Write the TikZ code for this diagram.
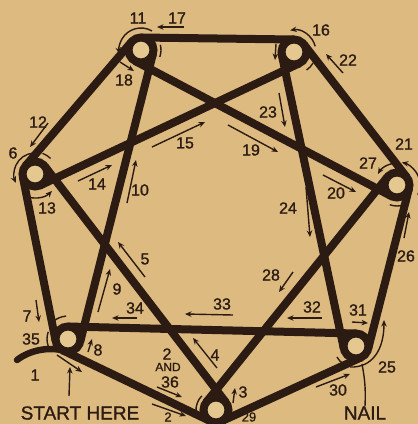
\documentclass[tikz,border=0pt]{standalone}
\usepackage{fontspec}
\setmainfont{Liberation Sans}
\newfontfamily\lblfont[UprightFeatures={FakeBold=1.2}]{Liberation Sans}
\usetikzlibrary{calc,arrows.meta}
\definecolor{bg}{RGB}{221,187,128}
\definecolor{ink}{RGB}{43,27,18}
\definecolor{nailc}{RGB}{228,200,144}
\newcommand\strg[2]{\draw[str] ($(#1)!12.5pt!-90:(#2)$) -- ($(#2)!12.5pt!90:(#1)$);}
\begin{document}
\begin{tikzpicture}[x=1pt,y=-1pt,
  str/.style={draw=ink,line width=8pt},
  thinl/.style={draw=ink,line width=1.4pt},
  arr/.style={thinl,-{Stealth[length=6.5pt,width=5.5pt]}},
  lbl/.style={text=ink,font=\lblfont\fontsize{16}{16}\selectfont,inner sep=0pt},
  lbls/.style={text=ink,font=\lblfont\fontsize{13}{13}\selectfont,inner sep=0pt},
  small/.style={text=ink,font=\lblfont\fontsize{12}{12}\selectfont,inner sep=0pt},
  big/.style={text=ink,font=\lblfont\fontsize{19}{19}\selectfont,inner sep=0pt},
  nail/.style={circle,draw=ink,line width=8pt,fill=nailc,minimum size=25pt,inner sep=0pt}]
\useasboundingbox (0,0) rectangle (418,424);
\fill[bg] (0,0) rectangle (418,424);
% nail centres
\coordinate (c11) at (141,50);
\coordinate (c16) at (294,52);
\coordinate (c6) at (35,174);
\coordinate (c21) at (397,185);
\coordinate (c8) at (68,339);
\coordinate (c25) at (356,346);
\coordinate (c3) at (216,410);
% strings
\strg{c8}{c3}
\strg{c3}{c6}
\strg{c6}{c8}
\strg{c8}{c11}
\strg{c11}{c6}
\strg{c6}{c16}
\strg{c16}{c11}
\strg{c11}{c21}
\strg{c21}{c16}
\strg{c16}{c25}
\strg{c25}{c21}
\strg{c21}{c3}
\strg{c3}{c25}
\strg{c25}{c8}
% start end of the string
\coordinate (s1) at (17,360);
\draw[draw=ink,line width=6.5pt,line cap=round] (s1) .. controls (30,350) and (48,347) .. ($(c8)!12.5pt!-90:(c3)$);
% nails
\node[nail] (n11) at (c11) {};
\node[nail] (n16) at (c16) {};
\node[nail] (n6) at (c6) {};
\node[nail] (n21) at (c21) {};
\node[nail] (n8) at (c8) {};
\node[nail] (n25) at (c25) {};
\node[nail] (n3) at (c3) {};
% wrap arcs
\draw[arr] ($(c11)+(60:22pt)$) arc[start angle=60,end angle=190,radius=22pt];
\draw[thinl] ($(c11)+(-20:20pt)$) arc[start angle=-20,end angle=15,radius=20pt];
\draw[arr] ($(c16)+(15:22pt)$) arc[start angle=15,end angle=100,radius=22pt];
\draw[thinl] ($(c16)+(-55:22pt)$) arc[start angle=-55,end angle=-30,radius=22pt];
\draw[arr] ($(c21)+(-25:23pt)$) arc[start angle=-25,end angle=78,radius=23pt];
\draw[arr] ($(c21)+(100:22pt)$) arc[start angle=100,end angle=150,radius=22pt];
\draw[thinl] ($(c21)+(-110:21pt)$) arc[start angle=-110,end angle=-70,radius=21pt];
\draw[arr] ($(c6)+(95:21pt)$) arc[start angle=95,end angle=205,radius=21pt];
\draw[thinl] ($(c6)+(45:22pt)$) arc[start angle=45,end angle=70,radius=22pt];
\draw[arr] ($(c6)+(-105:24pt)$) arc[start angle=-105,end angle=-45,radius=24pt];
\draw[thinl] ($(c8)+(160:21pt)$) arc[start angle=160,end angle=200,radius=21pt];
\draw[thinl] ($(c8)+(95:23pt)$) arc[start angle=95,end angle=130,radius=23pt];
\draw[thinl] ($(c3)+(135:20pt)$) arc[start angle=135,end angle=185,radius=20pt];
\draw[thinl] ($(c25)+(-150:22pt)$) arc[start angle=-150,end angle=-125,radius=22pt];
\draw[arr] (350,367) .. controls (372,368) and (384,350) .. (384,320);
% labels
\node[lbl] (t11) at (138,18) {11};
\node[lbl] (t17) at (177,18) {17};
\draw[arr] (184,27) -- (157,27);
\node[lbl] (t18) at (124,80) {18};
\draw[arr] (120,62) -- (134,71);
\node[lbl] (t16) at (321,30) {16};
\node[lbl] (t22) at (348,60) {22};
\draw[arr] (343,73) -- (326,54);
\draw[arr] (276,44) -- (275,60);
\node[lbl] (t23) at (268,112) {23};
\draw[arr] (279,93) -- (285,127);
\node[lbl] (t19) at (251,150) {19};
\draw[arr] (228,125) -- (278,152);
\node[lbl] (t20) at (336,193) {20};
\draw[arr] (323,175) -- (356,192);
\node[lbl] (t24) at (288,208) {24};
\draw[arr] (306,187) -- (310,237);
\node[lbl] (t21) at (404,144) {21};
\node[lbl] (t27) at (368,163) {27};
\node[lbl] (t26) at (406,256) {26};
\draw[arr] (404,238) -- (409,212);
\node[lbl] (t28) at (271,275) {28};
\draw[arr] (293,272) -- (279,292);
\node[lbl] (t25) at (387,367) {25};
\node[big] (tnail) at (365,413) {NAIL};
\draw[thinl] (tnail.north) .. controls (366,385) and (364,375) .. (362,364);
\node[lbl] (t30) at (338,390) {30};
\draw[arr] (316,387) -- (350,374);
\node[lbl] (t31) at (358,310) {31};
\draw[arr] (352,322) -- (368,323);
\node[lbl] (t32) at (312,307) {32};
\draw[arr] (322,318) -- (287,318);
\node[lbl] (t33) at (222,304) {33};
\draw[arr] (233,315) -- (185,314);
\node[lbl] (t34) at (135,308) {34};
\draw[arr] (137,318) -- (112,318);
\node[lbl] (t7) at (27,316) {7};
\draw[arr] (36,300) -- (39,322);
\node[lbl] (t35) at (31,339) {35};
\node[lbl] (t1) at (35,375) {1};
\node[big] (tstart) at (80,413) {START HERE};
\draw[arr] (69,396) -- (70,367);
\node[lbl] (t8) at (98,350) {8};
\draw[arr] (88,352) -- (92,339);
\draw[arr] (57,355) -- (82,372);
\node[lbl] (t2) at (167,354) {2};
\node[small] (tand) at (168,367) {AND};
\node[lbl] (t36) at (170,382) {36};
\draw[arr] (157,387) -- (182,397);
\node[lbl] (t9) at (117,289) {9};
\draw[arr] (98,312) -- (110,269);
\node[lbl] (t5) at (145,259) {5};
\draw[arr] (145,277) -- (118,242);
\node[lbl] (t4) at (215,355) {4};
\draw[arr] (217,368) -- (193,338);
\node[lbl] (t3) at (243,392) {3};
\draw[arr] (233,403) -- (235,388);
\node[lbls] (t2b) at (168,417) {2};
\draw[arr] (152,404) -- (186,416);
\node[lbls] (t29) at (249,417) {29};
\node[lbl] (t10) at (140,190) {10};
\draw[arr] (127,203) -- (136,160);
\node[lbl] (t14) at (97,184) {14};
\draw[arr] (78,181) -- (112,165);
\node[lbl] (t15) at (185,143) {15};
\draw[arr] (152,147) -- (205,122);
\node[lbl] (t13) at (47,208) {13};
\node[lbl] (t6) at (13,153) {6};
\node[lbl] (t12) at (38,122) {12};
\draw[arr] (48,123) -- (30,147);
\end{tikzpicture}
\end{document}
